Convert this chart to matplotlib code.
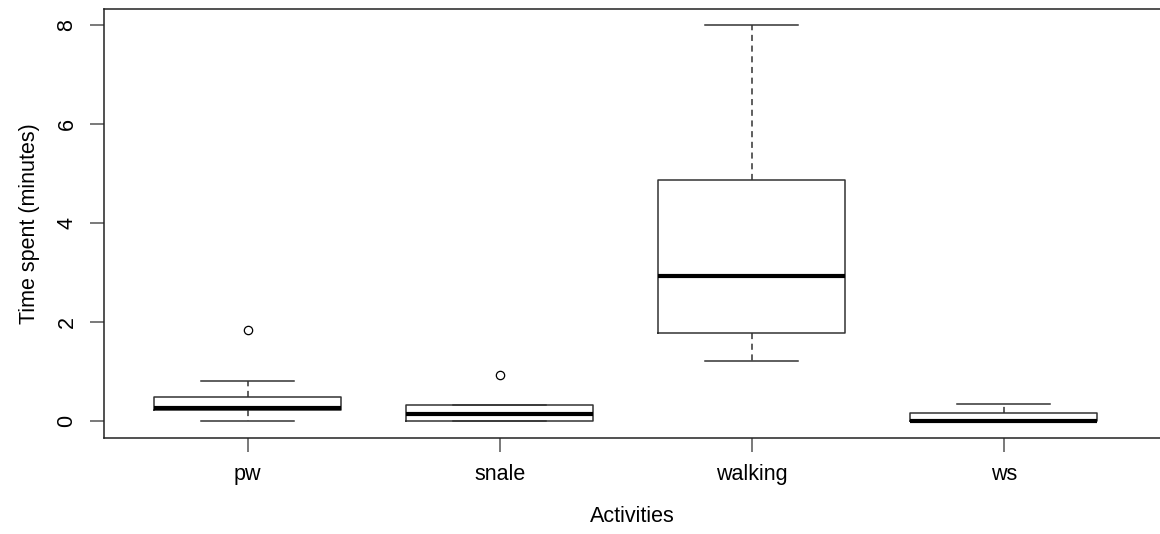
import matplotlib
matplotlib.use("Agg")
import matplotlib.pyplot as plt

plt.rcParams['font.family'] = ['Liberation Sans', 'DejaVu Sans']

# boxplot summary
activities = ['pw', 'snale', 'walking', 'ws']
whisker_lo = [0.0, 0.0, 1.20, 0.0]
q1 = [0.22, 0.0, 1.77, 0.0]
median = [0.26, 0.13, 2.92, 0.0]
q3 = [0.49, 0.32, 4.86, 0.16]
whisker_hi = [0.80, 0.32, 8.0, 0.35]
outliers = [[1.84], [0.93], [], []]

stats = []
for i, name in enumerate(activities):
    stats.append({
        'label': name,
        'whislo': whisker_lo[i], 'q1': q1[i], 'med': median[i],
        'q3': q3[i], 'whishi': whisker_hi[i], 'fliers': outliers[i],
    })

fig = plt.figure(figsize=(11.6, 5.34), dpi=100)
ax = fig.add_axes([104 / 1160, (534 - 437.7) / 534, 1 - 104 / 1160, (437.7 - 9) / 534])

lc = '#333333'
ax.bxp(stats, positions=[1, 2, 3, 4], widths=0.74, patch_artist=False,
       boxprops=dict(color=lc, linewidth=1.1),
       medianprops=dict(color='black', linewidth=3, solid_capstyle='butt'),
       whiskerprops=dict(color=lc, linewidth=1.1, linestyle=(0, (4, 3))),
       capprops=dict(color=lc, linewidth=1.1),
       capwidths=0.37,
       flierprops=dict(marker='o', markerfacecolor='none', markeredgecolor='black',
                       markersize=6, markeredgewidth=0.9))

ax.set_xlim(0.43, 4.62)
ax.set_ylim(-0.34, 8.32)
ax.set_yticks([0, 2, 4, 6, 8])
ax.set_yticklabels(['0', '2', '4', '6', '8'], rotation=90, va='center')

ax.spines['right'].set_visible(False)
for s in ['left', 'bottom', 'top']:
    ax.spines[s].set_color('#222222')
    ax.spines[s].set_linewidth(1.1)

ax.tick_params(axis='both', direction='out', length=10, width=1.1, color='#555555',
               labelsize=15.5, pad=9)
ax.set_xlabel('Activities', fontsize=15.5, labelpad=15)
ax.set_ylabel('Time spent (minutes)', fontsize=15.5, labelpad=12)

fig.savefig('out.png', dpi=100)
